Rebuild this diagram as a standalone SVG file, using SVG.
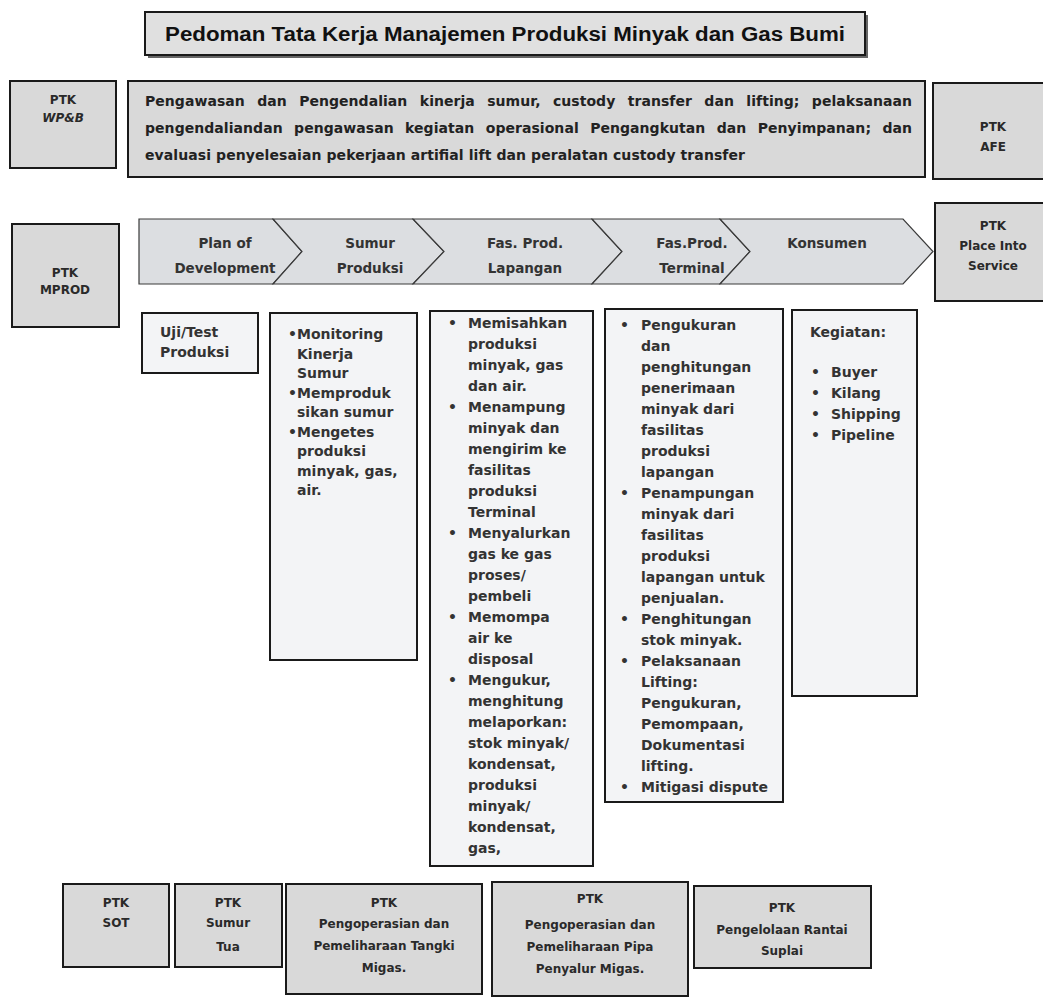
<svg xmlns="http://www.w3.org/2000/svg" width="1043" height="997" viewBox="0 0 1043 997">
<style>
.gbox{fill:#d9d9d9;stroke:#1a1a1a;stroke-width:2}
.lbox{fill:#f3f4f6;stroke:#1a1a1a;stroke-width:2}
.chev{fill:#dcdee1;stroke:#3a3a3a;stroke-width:1.2}
.lbl{font-family:"DejaVu Sans",sans-serif;font-weight:bold;font-size:12px;fill:#2a2a2a;text-anchor:middle}
.lblS{font-family:"DejaVu Sans",sans-serif;font-weight:bold;font-size:12px;fill:#2a2a2a;text-anchor:middle}
.ch{font-family:"DejaVu Sans",sans-serif;font-weight:bold;font-size:13.5px;fill:#333;text-anchor:middle}
.col{font-family:"DejaVu Sans",sans-serif;font-weight:bold;font-size:14px;fill:#333}
.top{font-family:"DejaVu Sans",sans-serif;font-weight:bold;font-size:14px;fill:#222}
.title{font-family:"Liberation Sans Narrow","Liberation Sans",sans-serif;font-weight:bold;font-size:20px;fill:#111;text-anchor:middle}
</style>
<rect width="1043" height="997" fill="#ffffff"/>

<g id="title">
<rect x="148" y="15" width="720" height="43" fill="#666"/>
<rect x="145" y="12" width="720" height="43" fill="#e0e0e0" stroke="#1a1a1a" stroke-width="2"/>
<text class="title" x="505" y="41" textLength="680" lengthAdjust="spacingAndGlyphs">Pedoman Tata Kerja Manajemen Produksi Minyak dan Gas Bumi</text>
</g>

<g id="ptk-wpb">
<rect class="gbox" x="10" y="81" width="106" height="87"/>
<text class="lbl" x="63" y="104">PTK</text>
<text class="lbl" x="63" y="122" font-style="italic">WP&amp;B</text>
</g>

<g id="scope">
<rect class="gbox" x="128" y="81" width="797" height="96"/>
<text class="top" x="145" y="106" word-spacing="7.5" textLength="767" lengthAdjust="spacing">Pengawasan dan Pengendalian kinerja sumur, custody transfer dan lifting; pelaksanaan</text>
<text class="top" x="145" y="133" word-spacing="6.5" textLength="767" lengthAdjust="spacing">pengendaliandan pengawasan kegiatan operasional Pengangkutan dan Penyimpanan; dan</text>
<text class="top" x="145" y="160" textLength="600" lengthAdjust="spacing">evaluasi penyelesaian pekerjaan artifial lift dan peralatan custody transfer</text>
</g>

<g id="ptk-afe">
<rect class="gbox" x="933" y="83" width="120" height="96"/>
<text class="lbl" x="993" y="131">PTK</text>
<text class="lbl" x="993" y="151">AFE</text>
</g>

<g id="ptk-mprod">
<rect class="gbox" x="12" y="224" width="107" height="103"/>
<text class="lbl" x="65" y="277">PTK</text>
<text class="lbl" x="65" y="294">MPROD</text>
</g>

<g id="chevrons">
<g id="chev-pod">
<polygon class="chev" points="139,219 273,219 302,251.5 273,284 139,284"/>
<text class="ch" x="225" y="248">Plan of</text>
<text class="ch" x="225" y="273">Development</text>
</g>
<g id="chev-sumur">
<polygon class="chev" points="273,219 413,219 444,251.5 413,284 273,284 302,251.5"/>
<text class="ch" x="370" y="248">Sumur</text>
<text class="ch" x="370" y="273">Produksi</text>
</g>
<g id="chev-lapangan">
<polygon class="chev" points="413,219 592,219 622,251.5 592,284 413,284 444,251.5"/>
<text class="ch" x="525" y="248">Fas. Prod.</text>
<text class="ch" x="525" y="273">Lapangan</text>
</g>
<g id="chev-terminal">
<polygon class="chev" points="592,219 720,219 750,251.5 720,284 592,284 622,251.5"/>
<text class="ch" x="692" y="248">Fas.Prod.</text>
<text class="ch" x="692" y="273">Terminal</text>
</g>
<g id="chev-konsumen">
<polygon class="chev" points="720,219 903,219 933,251.5 903,284 720,284 750,251.5"/>
<text class="ch" x="827" y="248">Konsumen</text>
</g>
</g>

<g id="ptk-pis">
<rect class="gbox" x="935" y="203" width="120" height="98"/>
<text class="lbl" x="993" y="230">PTK</text>
<text class="lbl" x="993" y="250">Place Into</text>
<text class="lbl" x="993" y="270">Service</text>
</g>

<g id="uji">
<rect class="lbox" x="142" y="313" width="116" height="60"/>
<text class="col" x="160" y="337">Uji/Test</text>
<text class="col" x="160" y="357">Produksi</text>
</g>

<g id="col-sumur">
<rect class="lbox" x="270" y="313" width="147" height="347"/>
<g class="col">
<text x="288" y="339">•Monitoring</text>
<text x="297" y="358.5">Kinerja</text>
<text x="297" y="378">Sumur</text>
<text x="288" y="397.5">•Memproduk</text>
<text x="297" y="417">sikan sumur</text>
<text x="288" y="436.5">•Mengetes</text>
<text x="297" y="456">produksi</text>
<text x="297" y="475.5">minyak, gas,</text>
<text x="297" y="495">air.</text>
</g>
</g>

<g id="col-lapangan">
<rect class="lbox" x="430" y="311" width="163" height="555"/>
<g class="col">
<text x="448" y="328">•</text><text x="468" y="328">Memisahkan</text>
<text x="468" y="349">produksi</text>
<text x="468" y="370">minyak, gas</text>
<text x="468" y="391">dan air.</text>
<text x="448" y="412">•</text><text x="468" y="412">Menampung</text>
<text x="468" y="433">minyak dan</text>
<text x="468" y="454">mengirim ke</text>
<text x="468" y="475">fasilitas</text>
<text x="468" y="496">produksi</text>
<text x="468" y="517">Terminal</text>
<text x="448" y="538">•</text><text x="468" y="538">Menyalurkan</text>
<text x="468" y="559">gas ke gas</text>
<text x="468" y="580">proses/</text>
<text x="468" y="601">pembeli</text>
<text x="448" y="622">•</text><text x="468" y="622">Memompa</text>
<text x="468" y="643">air ke</text>
<text x="468" y="664">disposal</text>
<text x="448" y="685">•</text><text x="468" y="685">Mengukur,</text>
<text x="468" y="706">menghitung</text>
<text x="468" y="727">melaporkan:</text>
<text x="468" y="748">stok minyak/</text>
<text x="468" y="769">kondensat,</text>
<text x="468" y="790">produksi</text>
<text x="468" y="811">minyak/</text>
<text x="468" y="832">kondensat,</text>
<text x="468" y="853">gas,</text>
</g>
</g>

<g id="col-terminal">
<rect class="lbox" x="605" y="309" width="178" height="493"/>
<g class="col">
<text x="620" y="330">•</text><text x="641" y="330">Pengukuran</text>
<text x="641" y="351">dan</text>
<text x="641" y="372">penghitungan</text>
<text x="641" y="393">penerimaan</text>
<text x="641" y="414">minyak dari</text>
<text x="641" y="435">fasilitas</text>
<text x="641" y="456">produksi</text>
<text x="641" y="477">lapangan</text>
<text x="620" y="498">•</text><text x="641" y="498">Penampungan</text>
<text x="641" y="519">minyak dari</text>
<text x="641" y="540">fasilitas</text>
<text x="641" y="561">produksi</text>
<text x="641" y="582">lapangan untuk</text>
<text x="641" y="603">penjualan.</text>
<text x="620" y="624">•</text><text x="641" y="624">Penghitungan</text>
<text x="641" y="645">stok minyak.</text>
<text x="620" y="666">•</text><text x="641" y="666">Pelaksanaan</text>
<text x="641" y="687">Lifting:</text>
<text x="641" y="708">Pengukuran,</text>
<text x="641" y="729">Pemompaan,</text>
<text x="641" y="750">Dokumentasi</text>
<text x="641" y="771">lifting.</text>
<text x="620" y="792">•</text><text x="641" y="792">Mitigasi dispute</text>
</g>
</g>

<g id="col-konsumen">
<rect class="lbox" x="792" y="310" width="125" height="386"/>
<g class="col">
<text x="810" y="337">Kegiatan:</text>
<text x="811" y="377">•</text><text x="831" y="377">Buyer</text>
<text x="811" y="398">•</text><text x="831" y="398">Kilang</text>
<text x="811" y="419">•</text><text x="831" y="419">Shipping</text>
<text x="811" y="440">•</text><text x="831" y="440">Pipeline</text>
</g>
</g>

<g id="ptk-sot">
<rect class="gbox" x="63" y="884" width="106" height="83"/>
<text class="lblS" x="116" y="907">PTK</text>
<text class="lblS" x="116" y="927">SOT</text>
</g>

<g id="ptk-sumur-tua">
<rect class="gbox" x="175" y="884" width="107" height="83"/>
<text class="lblS" x="228" y="907">PTK</text>
<text class="lblS" x="228" y="927">Sumur</text>
<text class="lblS" x="228" y="951">Tua</text>
</g>

<g id="ptk-tangki">
<rect class="gbox" x="286" y="884" width="196" height="110"/>
<text class="lblS" x="384" y="907">PTK</text>
<text class="lblS" x="384" y="928">Pengoperasian dan</text>
<text class="lblS" x="384" y="950">Pemeliharaan Tangki</text>
<text class="lblS" x="384" y="972">Migas.</text>
</g>

<g id="ptk-pipa">
<rect class="gbox" x="492" y="882" width="196" height="114"/>
<text class="lblS" x="590" y="903">PTK</text>
<text class="lblS" x="590" y="929">Pengoperasian dan</text>
<text class="lblS" x="590" y="951">Pemeliharaan Pipa</text>
<text class="lblS" x="590" y="973">Penyalur Migas.</text>
</g>

<g id="ptk-rantai">
<rect class="gbox" x="694" y="886" width="177" height="82"/>
<text class="lblS" x="782" y="912">PTK</text>
<text class="lblS" x="782" y="934">Pengelolaan Rantai</text>
<text class="lblS" x="782" y="955">Suplai</text>
</g>

<g id="connectors"></g>
</svg>
